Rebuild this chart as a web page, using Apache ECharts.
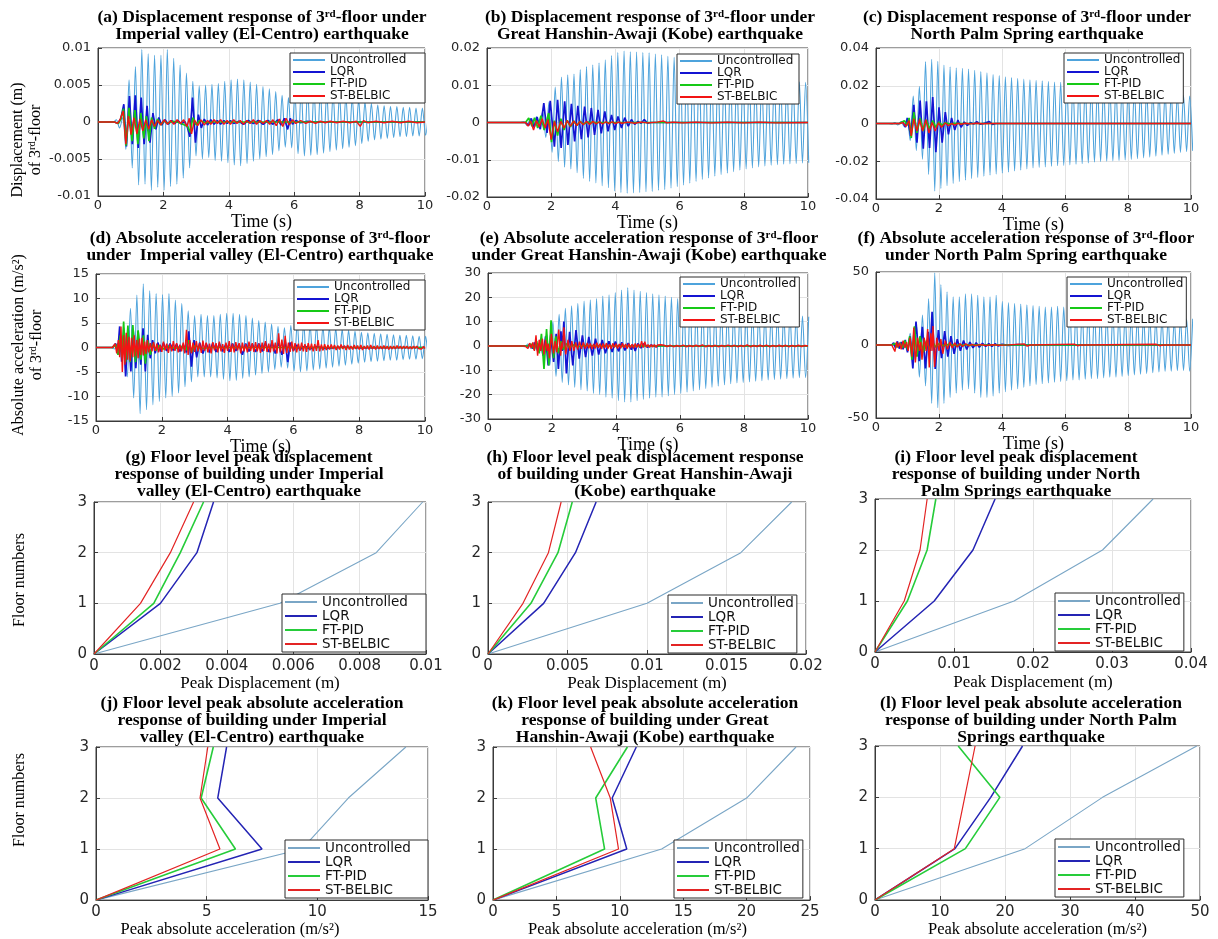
<!DOCTYPE html>
<html>
<head>
<meta charset="utf-8">
<script src="https://cdn.jsdelivr.net/npm/echarts@6/dist/echarts.min.js"></script>
<style>
  html, body { margin: 0; padding: 0; background: #ffffff; }
  #chart { width: 1218px; height: 939px; }
</style>
</head>
<body>
<div id="chart"></div>
<script>
// ---------------------------------------------------------------------------
// Data: 3-storey building response under three earthquakes
// ---------------------------------------------------------------------------
const seriesLabels = ['Uncontrolled', 'LQR', 'FT-PID', 'ST-BELBIC'];
const floors = [0, 1, 2, 3];

// Spacing (s) between successive turning points of the uncontrolled records
const halfPeriod = 0.0975;

// ---- (a) 3rd-floor displacement (m), El-Centro ----
const elCentroDispUncStart = 0.4625;
const elCentroDispUnc = [0, 0.0003, -0.0008, 0.0006, -0.0037, 0.0057, -0.0062, 0.0075, -0.0085, 0.0098, -0.0084,
  0.0092, -0.0092, 0.0090, -0.0088, 0.0090, -0.0092, 0.0098, -0.0087, 0.0086, -0.0084, 0.0077, -0.0076, 0.0066,
  -0.0062, 0.0055, -0.0046, 0.0049, -0.0050, 0.0050, -0.0048, 0.0051, -0.0052, 0.0052, -0.0053, 0.0055, -0.0055,
  0.0057, -0.0058, 0.0058, -0.0059, 0.0057, -0.0056, 0.0054, -0.0053, 0.0051, -0.0050, 0.0048, -0.0047, 0.0045,
  -0.0044, 0.0041, -0.0039, 0.0036, -0.0034, 0.0033, -0.0035, 0.0040, -0.0043, 0.0046, -0.0046, 0.0046, -0.0045,
  0.0045, -0.0044, 0.0043, -0.0042, 0.0041, -0.0040, 0.0039, -0.0038, 0.0037, -0.0036, 0.0035, -0.0034, 0.0033,
  -0.0032, 0.0030, -0.0029, 0.0027, -0.0026, 0.0025, -0.0024, 0.0023, -0.0023, 0.0022, -0.0022, 0.0021, -0.0021,
  0.0021, -0.0020, 0.0020, -0.0020, 0.0020, -0.0019, 0.0019, -0.0019, 0.0019, -0.0018, 0.0018];
const elCentroDispLQR = [[0, 0], [0.5, 0], [0.62, -0.0002], [0.7, 0.0005], [0.79, 0.0024], [0.87, -0.0033], [0.96, 0.0035],
  [1.05, -0.0030], [1.14, 0.0036], [1.23, -0.0035], [1.32, 0.0033], [1.41, -0.0030], [1.5, 0.0022], [1.59, -0.0028],
  [1.68, 0.0012], [1.77, -0.0010], [1.86, 0.0006], [1.95, -0.0004], [2.05, 0.0003], [2.15, -0.0003], [2.25, 0.0002],
  [2.35, -0.0002], [2.45, 0.0002], [2.55, -0.0003], [2.65, 0.0001], [2.74, -0.0008], [2.81, -0.0020], [2.89, 0.0033],
  [2.98, -0.0028], [3.07, 0.0010], [3.16, -0.0008], [3.25, 0.0004], [3.35, -0.0004], [3.45, 0.0003], [3.55, -0.0003],
  [3.65, 0.0002], [3.75, -0.0003], [3.85, 0.0002], [3.95, -0.0002], [4.05, 0.0002], [4.15, -0.0002], [4.3, 0.0001],
  [4.45, -0.0003], [4.6, 0.0002], [4.75, -0.0002], [4.9, 0.0002], [5.05, -0.0003], [5.2, 0.0002], [5.35, -0.0003],
  [5.5, 0.0003], [5.6, -0.0004], [5.7, 0.0005], [5.8, -0.0010], [5.88, 0.0005], [5.95, -0.0003], [6.05, 0.0002],
  [6.2, -0.0001], [6.4, 0.0001], [6.6, 0], [10, 0]];
const elCentroDispPID = [[0, 0], [0.5, 0], [0.62, -0.0002], [0.7, 0.0004], [0.78, 0.0018], [0.86, -0.0032], [0.95, 0.0019],
  [1.04, -0.0026], [1.13, 0.0016], [1.22, -0.0030], [1.31, 0.0012], [1.4, -0.0022], [1.48, 0.0008], [1.56, -0.0026],
  [1.64, 0.0006], [1.73, -0.0009], [1.82, 0.0004], [1.92, -0.0004], [2.02, 0.0002], [2.12, -0.0002], [2.3, 0.0001],
  [2.5, -0.0001], [2.74, -0.0006], [2.82, -0.0014], [2.9, 0.0006], [3.0, -0.0004], [3.1, 0.0002], [3.3, -0.0001],
  [3.5, 0], [10, 0]];
const elCentroDispBEL = [[0, 0], [0.5, 0], [0.6, -0.0002], [0.68, 0.0004], [0.77, 0.0015], [0.85, -0.0030], [0.93, 0.0008],
  [1.01, -0.0017], [1.1, 0.0006], [1.19, -0.0016], [1.28, 0.0004], [1.37, -0.0012], [1.46, 0.0003], [1.55, -0.0010],
  [1.64, 0.0003], [1.73, -0.0006], [1.82, 0.0002], [1.92, -0.0004], [2.02, 0.0003], [2.12, -0.0003], [2.22, 0.0002],
  [2.32, -0.0003], [2.42, 0.0003], [2.52, -0.0002], [2.62, 0.0003], [2.72, -0.0006], [2.79, 0.0005], [2.86, -0.0016],
  [2.95, 0.0003], [3.05, -0.0005], [3.15, 0.0003], [3.25, -0.0004], [3.35, 0.0002], [3.45, -0.0003], [3.55, 0.0003],
  [3.65, -0.0002], [3.75, 0.0003], [3.85, -0.0003], [3.95, 0.0002], [4.05, -0.0003], [4.15, 0.0003], [4.25, -0.0002],
  [4.35, 0.0002], [4.45, -0.0003], [4.55, 0.0002], [4.65, -0.0002], [4.75, 0.0003], [4.85, -0.0003], [4.95, 0.0002],
  [5.05, -0.0002], [5.15, 0.0002], [5.25, -0.0003], [5.35, 0.0003], [5.45, -0.0005], [5.55, 0.0004], [5.65, -0.0006],
  [5.75, 0.0005], [5.85, -0.0004], [5.95, 0.0003], [6.05, -0.0002], [6.2, 0.0002], [6.35, -0.0002], [6.5, 0.0001],
  [6.65, -0.0002], [6.8, 0.0001], [6.95, -0.0001], [7.1, 0.0001], [7.3, -0.0001], [7.5, 0.0001], [7.7, -0.0001],
  [7.9, 0.0001], [8.02, -0.0006], [8.12, 0.0002], [8.25, -0.0001], [8.5, 0.0001], [8.75, -0.0001], [9.0, 0.0001],
  [9.25, -0.0001], [9.5, 0.0001], [9.75, -0.0001], [10, 0]];

// ---- (b) 3rd-floor displacement (m), Kobe ----
const kobeDispUncStart = 1.0525;
const kobeDispUnc = [0, 0.0002, -0.0008, 0.0010, -0.0012, 0.0015, -0.0015, 0.0030, -0.0040, 0.0055, -0.0080, 0.0095,
  -0.0105, 0.0122, -0.0120, 0.0128, -0.0125, 0.0130, -0.0135, 0.0142, -0.0150, 0.0150, -0.0158, 0.0155, -0.0162,
  0.0160, -0.0170, 0.0168, -0.0175, 0.0180, -0.0184, 0.0188, -0.0188, 0.0192, -0.0190, 0.0190, -0.0189, 0.0189,
  -0.0188, 0.0188, -0.0186, 0.0187, -0.0185, 0.0184, -0.0182, 0.0182, -0.0180, 0.0178, -0.0176, 0.0175, -0.0172,
  0.0170, -0.0168, 0.0165, -0.0163, 0.0161, -0.0158, 0.0156, -0.0153, 0.0151, -0.0149, 0.0147, -0.0144, 0.0142,
  -0.0140, 0.0138, -0.0136, 0.0134, -0.0132, 0.0130, -0.0128, 0.0126, -0.0125, 0.0123, -0.0122, 0.0120, -0.0119,
  0.0118, -0.0117, 0.0116, -0.0115, 0.0114, -0.0113, 0.0112, -0.0112, 0.0111, -0.0111, 0.0110, -0.0110, 0.0109,
  -0.0109, 0.0108, -0.0108];
const kobeDispLQR = [[0, 0], [1.2, 0], [1.3, -0.0008], [1.38, 0.0011], [1.47, -0.0012], [1.56, 0.0015], [1.66, -0.0018],
  [1.77, 0.0052], [1.87, -0.0028], [1.97, 0.0058], [2.1, -0.0065], [2.2, 0.0061], [2.31, -0.0068], [2.42, 0.0057],
  [2.52, -0.0060], [2.63, 0.0050], [2.73, -0.0051], [2.83, 0.0045], [2.94, -0.0045], [3.04, 0.0043], [3.15, -0.0040],
  [3.25, 0.0039], [3.35, -0.0033], [3.46, 0.0034], [3.56, -0.0029], [3.67, 0.0030], [3.77, -0.0024], [3.88, 0.0020],
  [3.98, -0.0020], [4.08, 0.0016], [4.19, -0.0015], [4.29, 0.0013], [4.4, -0.0010], [4.5, 0.0008], [4.6, -0.0005],
  [4.7, 0.0003], [4.8, -0.0002], [4.9, 0.0008], [5.0, -0.0002], [5.1, 0], [10, 0]];
const kobeDispPID = [[0, 0], [1.2, 0], [1.3, 0.0012], [1.4, -0.0010], [1.48, 0.0013], [1.58, -0.0015], [1.68, 0.0018],
  [1.78, -0.0020], [1.92, 0.0025], [2.01, -0.0053], [2.1, 0.0005], [2.2, -0.0035], [2.3, 0.0010], [2.4, -0.0020],
  [2.5, 0.0006], [2.6, -0.0012], [2.7, 0.0004], [2.8, -0.0008], [2.9, 0.0003], [3.0, -0.0004], [3.15, 0.0001],
  [3.3, 0], [10, 0]];
const kobeDispBEL = [[0, 0], [1.2, 0], [1.28, -0.0010], [1.36, 0.0004], [1.45, -0.0020], [1.54, 0.0005], [1.63, -0.0012],
  [1.72, 0.0010], [1.81, -0.0015], [1.9, 0.0008], [2.0, -0.0046], [2.1, 0.0003], [2.2, -0.0025], [2.3, 0.0003],
  [2.4, -0.0015], [2.5, 0.0005], [2.6, -0.0010], [2.7, 0.0004], [2.8, -0.0008], [2.9, 0.0003], [3.0, -0.0006],
  [3.1, 0.0003], [3.2, -0.0005], [3.3, 0.0003], [3.4, -0.0004], [3.5, 0.0002], [3.6, -0.0004], [3.7, 0.0002],
  [3.8, -0.0003], [3.9, 0.0002], [4.0, -0.0003], [4.1, 0.0001], [4.2, -0.0002], [4.4, 0.0001], [4.6, -0.0002],
  [4.8, 0.0001], [5.0, -0.0001], [5.3, 0.0001], [5.5, 0.0004], [5.6, -0.0001], [5.8, 0.0001], [6.1, -0.0001],
  [6.5, 0.0001], [7.0, -0.0001], [7.5, 0.0001], [8.0, -0.0001], [8.5, 0.0001], [9.0, -0.0001], [10, 0]];

// ---- (c) 3rd-floor displacement (m), North Palm Springs ----
const palmDispUncStart = 0.4025;
const palmDispUnc = [0, -0.0003, 0.0005, -0.0008, 0.0010, -0.0015, 0.0030, -0.0090, 0.0145, -0.0143, 0.0197, -0.0190,
  0.0328, -0.0270, 0.0340, -0.0358, 0.0330, -0.0344, 0.0310, -0.0330, 0.0300, -0.0318, 0.0295, -0.0308, 0.0292,
  -0.0300, 0.0288, -0.0292, 0.0282, -0.0286, 0.0275, -0.0280, 0.0268, -0.0274, 0.0260, -0.0268, 0.0254, -0.0263,
  0.0248, -0.0258, 0.0243, -0.0252, 0.0239, -0.0247, 0.0235, -0.0241, 0.0232, -0.0236, 0.0229, -0.0233, 0.0226,
  -0.0230, 0.0223, -0.0227, 0.0220, -0.0224, 0.0218, -0.0222, 0.0215, -0.0219, 0.0212, -0.0216, 0.0209, -0.0213,
  0.0206, -0.0209, 0.0203, -0.0205, 0.0200, -0.0202, 0.0198, -0.0200, 0.0196, -0.0198, 0.0194, -0.0196, 0.0192,
  -0.0193, 0.0190, -0.0190, 0.0187, -0.0186, 0.0183, -0.0182, 0.0179, -0.0178, 0.0175, -0.0173, 0.0170, -0.0168,
  0.0165, -0.0163, 0.0160, -0.0158, 0.0155, -0.0153, 0.0150, -0.0149, 0.0145, -0.0145];
const palmDispLQR = [[0, 0], [0.75, 0], [0.85, 0.0010], [0.93, -0.0020], [1.0, 0.0029], [1.1, -0.0066], [1.2, 0.0099],
  [1.3, -0.0102], [1.4, 0.0122], [1.5, -0.0134], [1.6, 0.0118], [1.7, -0.0130], [1.8, 0.0140], [1.9, -0.0152],
  [2.0, 0.0086], [2.1, -0.0102], [2.2, 0.0060], [2.3, -0.0057], [2.4, 0.0030], [2.5, -0.0035], [2.6, 0.0018],
  [2.7, -0.0020], [2.8, 0.0008], [2.9, -0.0010], [3.0, 0.0005], [3.1, -0.0003], [3.2, 0.0010], [3.3, -0.0003],
  [3.45, 0.0002], [3.6, 0.0010], [3.7, -0.0005], [3.8, 0], [10, 0]];
const palmDispPID = [[0, 0], [0.75, 0], [0.9, 0.0015], [1.0, -0.0010], [1.05, 0.0030], [1.12, -0.0077], [1.2, 0.0060],
  [1.3, -0.0050], [1.4, 0.0030], [1.5, -0.0040], [1.6, 0.0020], [1.7, -0.0030], [1.8, 0.0015], [1.9, -0.0020],
  [2.0, 0.0008], [2.1, -0.0010], [2.2, 0.0004], [2.35, -0.0003], [2.5, 0.0001], [2.7, 0], [10, 0]];
const palmDispBEL = [[0, 0], [0.75, 0], [0.85, 0.0005], [0.95, -0.0015], [1.05, 0.0015], [1.12, -0.0066], [1.2, 0.0025],
  [1.3, -0.0040], [1.38, 0.0020], [1.48, -0.0040], [1.58, 0.0020], [1.68, -0.0050], [1.78, 0.0005], [1.88, -0.0040],
  [1.98, 0.0003], [2.08, -0.0020], [2.2, 0.0003], [2.3, -0.0012], [2.4, 0.0000], [2.5, -0.0008], [2.6, 0.0001],
  [2.7, -0.0004], [2.85, 0.0001], [3.0, -0.0002], [3.2, 0.0001], [3.4, -0.0001], [3.6, 0], [10, 0]];

// ---- (d) 3rd-floor absolute acceleration (m/s^2), El-Centro ----
const elCentroAccUncStart = 0.4625;
const elCentroAccUnc = [0, -0.3, 0.8, -0.8, 4.0, -6.0, 8.0, -10.3, 10.7, -13.5, 13.0, -12.7, 11.6, -11.7, 11.0, -11.0,
  10.8, -10.3, 11.0, -10.0, 9.7, -9.3, 9.0, -8.0, 7.5, -7.0, 6.5, -6.0, 6.8, -6.0, 6.5, -6.0, 6.5, -6.2, 6.8, -6.5,
  7.0, -6.8, 7.0, -6.7, 6.8, -6.3, 6.5, -6.0, 6.0, -5.6, 5.5, -5.3, 5.2, -5.0, 4.8, -4.5, 4.3, -4.0, 4.0, -4.2, 4.5,
  -4.8, 5.0, -5.0, 5.0, -4.8, 4.7, -4.6, 4.5, -4.4, 4.3, -4.2, 4.1, -4.0, 3.9, -3.8, 3.7, -3.6, 3.5, -3.4, 3.3,
  -3.2, 3.1, -3.0, 3.0, -2.9, 2.9, -2.8, 2.8, -2.7, 2.7, -2.6, 2.6, -2.6, 2.5, -2.5, 2.5, -2.4, 2.4, -2.4, 2.3,
  -2.3, 2.3, -2.2, 2.2];
const elCentroAccLQR = [[0, 0], [0.5, 0], [0.6, 0.8], [0.66, -1.0], [0.72, 4.3], [0.78, -2.9], [0.84, 2.0], [0.9, -5.9],
  [0.98, 3.6], [1.06, -4.9], [1.13, 3.4], [1.21, -4.2], [1.28, 3.3], [1.36, -3.5], [1.43, 3.9], [1.5, -4.9],
  [1.57, 2.6], [1.65, -2.2], [1.72, 1.5], [1.8, -1.2], [1.88, 1.0], [1.96, -0.8], [2.05, 0.9], [2.15, -0.7],
  [2.25, 0.8], [2.35, -0.6], [2.45, 0.7], [2.55, -0.8], [2.65, 0.6], [2.75, -1.0], [2.82, 3.3], [2.9, -3.9],
  [2.98, 1.5], [3.06, -2.0], [3.15, 1.0], [3.25, -1.2], [3.35, 0.8], [3.45, -1.0], [3.55, 0.9], [3.65, -0.9],
  [3.75, 0.8], [3.85, -0.8], [3.95, 0.7], [4.05, -0.9], [4.15, 0.8], [4.25, -0.7], [4.35, 0.7], [4.45, -1.5],
  [4.55, 0.8], [4.65, -0.8], [4.75, 0.7], [4.85, -0.9], [4.95, 0.8], [5.05, -0.8], [5.15, 0.9], [5.25, -0.9],
  [5.35, 1.0], [5.45, -1.2], [5.55, 1.0], [5.65, -1.5], [5.75, 1.2], [5.83, -3.0], [5.9, 1.0], [6.0, -0.6],
  [6.1, 0.5], [6.2, -0.4], [6.35, 0.3], [6.5, -0.3], [6.7, 0.2], [7.0, -0.2], [7.5, 0.1], [8.0, -0.1], [10, 0]];
const elCentroAccPID = [[0, 0], [0.5, 0], [0.6, 0.6], [0.67, -1.5], [0.74, 2.5], [0.79, -2.0], [0.84, 5.3], [0.9, -3.0],
  [0.97, 4.5], [1.04, -3.0], [1.12, 4.6], [1.2, -3.0], [1.28, 3.5], [1.36, -2.5], [1.44, 2.5], [1.5, -3.3],
  [1.57, 1.5], [1.65, -1.5], [1.73, 0.8], [1.82, -0.6], [1.92, 0.4], [2.05, -0.3], [2.2, 0.2], [2.4, -0.2],
  [2.6, 0.2], [2.75, -0.5], [2.82, 1.5], [2.9, -1.0], [3.0, 0.4], [3.2, -0.2], [3.5, 0], [10, 0]];
const elCentroAccBEL = [[0, 0], [0.5, 0], [0.58, 0.8], [0.63, -1.2], [0.68, 1.5], [0.72, -2.0], [0.76, 4.3], [0.8, -5.0],
  [0.84, 2.5], [0.88, -3.5], [0.92, 3.0], [0.96, -2.5], [1.0, 2.2], [1.04, -2.8], [1.08, 2.0], [1.12, -2.0],
  [1.16, 2.5], [1.2, -1.8], [1.24, 1.5], [1.28, -2.2], [1.32, 1.8], [1.36, -1.5], [1.4, 2.0], [1.44, -1.6],
  [1.48, 1.2], [1.52, -1.3], [1.56, 1.5], [1.6, -1.0]];
// ST-BELBIC residual ripple, sampled every 0.05 s from 1.65 s
const elCentroAccBELRippleStart = 1.65;
const elCentroAccBELRipple = [0.9, -0.8, 1.1, -0.7, 0.8, -1.0, 0.6, -0.9, 1.2, -0.6, 0.8, -1.1, 0.7, -0.8, 1.3, -0.7,
  0.9, -1.0, 0.6, -0.8, 1.0, -1.2, 3.6, -1.5, 1.5, -1.2, 1.0, -0.9, 1.3, -0.8, 0.9, -1.1, 1.4, -0.7, 1.0, -1.0, 0.8,
  -1.2, 1.1, -0.6, 0.9, -1.0, 1.2, -0.8, 0.7, -1.1, 1.0, -0.7, 1.3, -0.9, 0.8, -1.0, 1.1, -0.6, 0.9, -1.2, 1.0, -0.8,
  0.7, -1.0, 1.2, -0.7, 0.9, -0.9, 1.1, -0.8, 0.8, -1.1, 1.0, -0.7, 1.3, -0.9, 0.8, -1.0, 1.5, -0.8, 1.0, -1.2, 2.9,
  -1.0, 1.6, -1.3, 2.4, -1.1, 1.0, -0.9, 1.2, -0.8, 0.9, -1.0, 0.8, -0.7, 1.0, -0.8, 0.7, -0.9, 0.9, -0.6, 0.8,
  -0.8, 0.7, -0.7, 1.5, -0.8, 0.6, -0.6, 0.7, -0.5, 0.5, -0.4, 0.6, -0.3, 0.5, -0.5, 0.4, -0.4, 0.6, -0.3, 0.4,
  -0.5, 0.5, -0.4, 0.3, -0.4, 0.5, -0.3, 0.4, -0.4, 0.5, -0.5, 0.3, -0.3, 0.4, -0.4, 0.5, -0.3, 0.3, -0.4, 0.4,
  -0.3, 0.3, -0.3, 0.4, -0.3, 0.3, -0.4, 0.3, -0.3, 0.3, -0.3, 0.4, -0.2, 0.3, -0.3, 0.3, -0.2, 0.3, -0.3, 0.2,
  -0.3, 0.3, -0.2, 0.3, -0.2, 0.2, -0.3, 0.2, -0.2];

// ---- (e) 3rd-floor absolute acceleration (m/s^2), Kobe ----
const kobeAccUncStart = 1.0525;
const kobeAccUnc = [0, -0.3, 0.8, -1.0, 1.5, -2.0, 2.5, -4.0, 5.0, -8.0, 10.0, -12.5, 13.0, -15.0, 15.5, -16.0, 16.5,
  -17.0, 17.5, -18.0, 18.5, -18.5, 19.0, -19.5, 19.5, -20.0, 20.5, -21.0, 21.0, -21.5, 22.0, -22.5, 23.0, -23.0,
  24.0, -23.0, 23.0, -22.5, 22.5, -22.0, 22.0, -21.5, 21.5, -21.0, 21.0, -21.0, 20.5, -20.5, 20.0, -20.0, 19.5,
  -19.5, 19.0, -19.0, 18.5, -18.5, 18.0, -18.0, 17.5, -17.5, 17.0, -17.0, 16.5, -16.5, 16.0, -16.0, 15.5, -15.5,
  15.0, -15.2, 14.8, -15.0, 14.5, -14.8, 14.2, -14.5, 14.0, -14.3, 13.8, -14.0, 13.5, -13.8, 13.2, -13.6, 13.0,
  -13.4, 12.8, -13.2, 12.5, -13.0, 12.3, -13.0, 12.0];
const kobeAccLQR = [[0, 0], [1.25, 0], [1.32, 0.6], [1.4, -1.0], [1.48, 1.5], [1.56, -2.0], [1.64, 2.5], [1.72, -4.0],
  [1.8, 4.0], [1.88, -8.0], [1.96, 4.4], [2.05, -6.5], [2.13, 5.0], [2.2, -9.4], [2.28, 6.0], [2.32, -2.0],
  [2.37, 10.0], [2.45, -11.3], [2.55, 5.8], [2.65, -8.0], [2.75, 6.5], [2.85, -5.2], [2.95, 4.4], [3.05, -4.6],
  [3.15, 3.7], [3.26, -3.9], [3.36, 3.0], [3.46, -3.5], [3.57, 2.5], [3.67, -3.0], [3.78, 2.0], [3.88, -2.5],
  [3.98, 1.8], [4.08, -2.2], [4.18, 1.5], [4.28, -1.8], [4.38, 1.2], [4.48, -1.5], [4.53, 0.5], [4.6, -2.0],
  [4.68, 1.0], [4.78, -0.8], [4.88, 1.0], [4.98, -0.5], [5.1, 0.4], [5.25, -0.3], [5.4, 0.2], [5.6, 0], [10, 0]];
const kobeAccPID = [[0, 0], [1.25, 0], [1.35, 0.8], [1.45, -1.5], [1.52, 2.0], [1.6, -3.0], [1.67, 5.0], [1.75, -9.4],
  [1.83, 7.0], [1.9, -8.0], [1.97, 10.6], [2.05, -5.0], [2.12, 4.0], [2.2, -3.0], [2.28, 2.0], [2.36, -1.5],
  [2.45, 1.0], [2.55, -0.8], [2.65, 0.5], [2.8, -0.3], [3.0, 0.2], [3.3, 0], [10, 0]];
const kobeAccBEL = [[0, 0], [1.15, 0], [1.2, 0.8], [1.25, -1.0], [1.3, 1.2], [1.35, -0.8], [1.4, 1.5], [1.45, -2.0],
  [1.5, 4.4], [1.55, -4.0], [1.6, 2.5], [1.65, -2.0], [1.7, 3.0], [1.75, -3.5], [1.8, 2.5], [1.85, -2.0],
  [1.88, 1.0], [1.92, -5.0], [1.98, 5.0], [2.05, -3.0], [2.1, 2.0], [2.15, -2.5], [2.21, 6.8], [2.27, -4.0],
  [2.31, 1.5], [2.33, -1.0], [2.37, 7.7], [2.43, -3.5], [2.5, 2.5], [2.56, -2.0], [2.62, 2.0], [2.68, -2.0],
  [2.74, 1.5], [2.8, -1.5], [2.86, 1.8], [2.92, -1.2], [2.98, 1.5], [3.04, -1.0]];
const kobeAccBELRippleStart = 3.1;      // every 0.05 s
const kobeAccBELRipple = [1.2, -0.9, 1.0, -1.3, 0.8, -1.0, 1.4, -0.7, 0.9, -1.1, 1.0, -0.8, 1.2, -1.0, 0.7, -1.2, 1.1,
  -0.6, 0.9, -1.0, 0.8, -0.9, 1.1, -0.7, 0.8, -1.0, 0.9, -0.8, 0.7, -0.9, 1.0, -0.6, 0.8, -0.7, 2.0, -0.6, 1.8, -0.5,
  0.6, -0.6, 0.5, -0.4, 0.6, -0.5, 0.4, -0.4, 0.5, -0.3];
const kobeAccBELTailStart = 5.5;        // every 0.1 s
const kobeAccBELTail = [0.3, -0.2, 0.3, -0.3, 0.2, -0.2, 0.4, -0.3, 0.2, -0.2, 0.3, -0.2, 0.5, -0.3, 0.2, -0.2, 0.3,
  -0.3, 0.2, -0.2, 0.4, -0.2, 0.3, -0.3, 0.2, -0.2, 0.5, -0.3, 0.2, -0.2, 0.3, -0.2, 0.4, -0.3, 0.2, -0.2, 0.3, -0.2,
  0.3, -0.3, 0.2, -0.2, 0.3, -0.2, 0.2];

// ---- (f) 3rd-floor absolute acceleration (m/s^2), North Palm Springs ----
const palmAccUncStart = 0.4025;
const palmAccUnc = [0, 0.3, -0.5, 0.8, -1.2, 2.0, -4.0, 8.0, -12.0, 14.3, -22.0, 20.5, -28.0, 31.8, -40.0, 49.5, -43.0,
  41.4, -40.0, 36.4, -36.0, 33.0, -33.0, 33.0, -31.0, 35.0, -30.0, 35.0, -33.0, 34.0, -36.0, 33.0, -36.0, 33.0,
  -35.0, 34.0, -33.0, 30.0, -32.0, 29.0, -31.0, 28.5, -30.0, 28.0, -29.0, 27.5, -28.0, 27.0, -27.0, 26.5, -26.5,
  26.0, -26.0, 26.0, -25.5, 26.5, -25.0, 26.0, -24.5, 25.0, -24.0, 24.5, -24.0, 24.0, -23.5, 24.0, -23.0, 23.5,
  -23.0, 23.0, -22.5, 22.0, -22.0, 21.5, -22.0, 21.0, -21.5, 21.0, -21.0, 20.5, -20.5, 20.0, -20.0, 19.5, -19.5,
  19.0, -19.0, 18.5, -18.5, 18.0, -18.0, 17.5, -18.0, 17.0, -17.5, 17.5, -17.5, 18.0, -18.0, 18.0];
const palmAccLQR = [[0, 0], [0.5, 0], [0.56, 1.5], [0.62, -2.0], [0.68, 2.5], [0.74, -2.5], [0.8, 2.0], [0.86, -3.0],
  [0.93, 3.5], [1.0, -5.0], [1.08, 6.0], [1.17, -16.0], [1.27, 16.0], [1.37, -11.0], [1.47, 12.5], [1.57, -16.0],
  [1.66, 9.0], [1.72, -4.0], [1.78, 22.7], [1.88, -16.4], [1.98, 10.2], [2.08, -9.0], [2.18, 9.5], [2.28, -8.0],
  [2.38, 6.0], [2.48, -6.0], [2.58, 4.0], [2.68, -4.0], [2.78, 3.0], [2.88, -3.0], [2.98, 2.0], [3.08, -2.0],
  [3.18, 1.5], [3.28, -1.5], [3.38, 1.2], [3.48, -1.0], [3.58, 1.0], [3.68, -1.0], [3.78, 0.8], [3.88, -0.6],
  [4.0, 0.4], [4.2, -0.3], [4.5, 0.2], [4.8, 0], [10, 0]];
const palmAccPID = [[0, 0], [0.5, 0], [0.6, 1.0], [0.68, -1.5], [0.76, 1.5], [0.84, -2.0], [0.92, 3.0], [1.0, -3.0],
  [1.07, 6.0], [1.14, -10.0], [1.22, 12.8], [1.3, -8.0], [1.4, 6.0], [1.5, -5.0], [1.6, 3.0], [1.7, -3.0],
  [1.8, 2.0], [1.9, -1.5], [2.0, 1.0], [2.15, -0.6], [2.3, 0.4], [2.5, -0.2], [2.7, 0], [10, 0]];
const palmAccBEL = [[0, 0], [0.5, 0], [0.55, 1.0], [0.6, -4.5], [0.65, 2.0], [0.7, -1.5], [0.75, 1.5], [0.8, -3.0],
  [0.86, 3.0], [0.92, -2.0], [0.97, 2.0], [1.02, -4.0], [1.08, 5.0], [1.14, -8.0], [1.2, 12.0], [1.25, -12.0],
  [1.32, 5.0], [1.38, -4.0], [1.42, 2.0], [1.46, -10.0], [1.53, 5.0], [1.59, -4.0], [1.64, 11.0], [1.69, -15.4],
  [1.74, 8.0], [1.78, -4.0], [1.81, 13.0], [1.86, -15.0], [1.93, 5.0], [2.0, -4.0], [2.06, 4.0], [2.12, -6.0],
  [2.2, 3.0], [2.27, -3.0], [2.34, 2.0], [2.42, -2.0], [2.5, 1.5], [2.58, -1.5], [2.66, 1.0], [2.75, -1.0],
  [2.85, 0.8], [2.95, -0.6], [3.05, 0.5], [3.15, -0.5], [3.3, 0.3], [3.5, -0.3], [3.7, 0.2], [3.9, -0.2],
  [4.2, 0.1], [4.7, 0.8], [4.8, -0.8], [4.9, 0], [6.3, 0.6], [6.4, -0.5], [6.5, 0], [8.9, 0.5], [9.0, -0.5],
  [9.1, 0], [10, 0]];

// ---- (g)-(i) Peak floor displacement (m) at floors 0..3 ----
const elCentroPeakDisp = { unc: [0, 0.0056, 0.0085, 0.0099], lqr: [0, 0.0020, 0.0031, 0.0036], pid: [0, 0.0018, 0.0026, 0.0033], bel: [0, 0.0014, 0.0023, 0.0030] };
const kobePeakDisp = { unc: [0, 0.0100, 0.0159, 0.0191], lqr: [0, 0.0035, 0.0055, 0.0068], pid: [0, 0.0027, 0.0044, 0.0053], bel: [0, 0.0022, 0.0038, 0.0046] };
const palmPeakDisp = { unc: [0, 0.0176, 0.0288, 0.0352], lqr: [0, 0.0075, 0.0124, 0.0152], pid: [0, 0.0041, 0.0066, 0.0077], bel: [0, 0.0037, 0.0057, 0.0066] };

// ---- (j)-(l) Peak floor absolute acceleration (m/s^2) at floors 0..3 ----
const elCentroPeakAcc = { unc: [0, 9.3, 11.4, 14.0], lqr: [0, 7.5, 5.5, 5.9], pid: [0, 6.3, 4.75, 5.3], bel: [0, 5.6, 4.7, 5.05] };
const kobePeakAcc = { unc: [0, 13.3, 20.0, 23.9], lqr: [0, 10.55, 9.4, 11.3], pid: [0, 8.8, 8.1, 10.6], bel: [0, 9.9, 9.25, 7.7] };
const palmPeakAcc = { unc: [0, 23.1, 35.0, 49.5], lqr: [0, 12.3, 17.8, 22.7], pid: [0, 13.9, 19.2, 12.8], bel: [0, 12.2, 13.8, 15.4] };

// ---------------------------------------------------------------------------
// Helpers that turn the stored samples into [x, y] pairs for ECharts
// ---------------------------------------------------------------------------
function sampled(start, step, values) {
  return values.map((v, i) => [+(start + i * step).toFixed(4), v]);
}
function record(start, values) {            // at rest from t = 0, then turning points
  return [[0, 0]].concat(sampled(start, halfPeriod, values));
}
function profile(values) {                   // peak value against floor number
  return floors.map((f, k) => [values[k], f]);
}

// ---------------------------------------------------------------------------
// Styling
// ---------------------------------------------------------------------------
const SERIF = 'Liberation Serif';
const SANS = 'DejaVu Sans';
const AXIS_COLOR = '#3a3a3a';
const timeStyles = [
  { color: '#4ea3dc', width: 1.1, smooth: 0.3 },
  { color: '#1414d2', width: 1.7, smooth: false },
  { color: '#16c916', width: 1.7, smooth: false },
  { color: '#f21414', width: 1.4, smooth: false }
];
const floorStyles = [
  { color: '#7aa6c6', width: 1.1 },
  { color: '#2424b4', width: 1.5 },
  { color: '#26cc3a', width: 1.6 },
  { color: '#e32424', width: 1.2 }
];

// ---------------------------------------------------------------------------
// Panel layout
// ---------------------------------------------------------------------------
const timeX = [0, 10, 2];
const floorY = [0, 3, 1];
const panels = [
  { key: 'a', kind: 'time', box: [98, 48, 425, 196], xr: timeX, yr: [-0.01, 0.01, 0.005],
    legend: [290, 53, 92], title: [262, 9], xName: 'Time (s)', nameGap: 13, nameShift: 0,
    title_text: '(a) Displacement response of 3{sup|rd}-floor under\nImperial valley (El-Centro) earthquake',
    data: [record(elCentroDispUncStart, elCentroDispUnc), elCentroDispLQR, elCentroDispPID, elCentroDispBEL] },
  { key: 'b', kind: 'time', box: [487, 48, 808, 197], xr: timeX, yr: [-0.02, 0.02, 0.01],
    legend: [677, 54, 79], title: [650, 9], xName: 'Time (s)', nameGap: 11, nameShift: 0,
    title_text: '(b) Displacement response of 3{sup|rd}-floor under\nGreat Hanshin-Awaji (Kobe) earthquake',
    data: [record(kobeDispUncStart, kobeDispUnc), kobeDispLQR, kobeDispPID, kobeDispBEL] },
  { key: 'c', kind: 'time', box: [876, 48, 1191, 199], xr: timeX, yr: [-0.04, 0.04, 0.02],
    legend: [1064, 53, 75], title: [1027, 9], xName: 'Time (s)', nameGap: 10, nameShift: 0,
    title_text: '(c) Displacement response of 3{sup|rd}-floor under\nNorth Palm Spring earthquake',
    data: [record(palmDispUncStart, palmDispUnc), palmDispLQR, palmDispPID, palmDispBEL] },
  { key: 'd', kind: 'time', box: [96, 274, 425, 421], xr: timeX, yr: [-15, 15, 5],
    legend: [294, 280, 88], title: [260, 229.5], xName: 'Time (s)', nameGap: 11, nameShift: 0,
    title_text: '(d) Absolute acceleration response of 3{sup|rd}-floor\nunder  Imperial valley (El-Centro) earthquake',
    data: [record(elCentroAccUncStart, elCentroAccUnc), elCentroAccLQR, elCentroAccPID,
      elCentroAccBEL.concat(sampled(elCentroAccBELRippleStart, 0.05, elCentroAccBELRipple))] },
  { key: 'e', kind: 'time', box: [488, 273, 808, 419], xr: timeX, yr: [-30, 30, 10],
    legend: [680, 277, 75], title: [649, 229.5], xName: 'Time (s)', nameGap: 14, nameShift: 0,
    title_text: '(e) Absolute acceleration response of 3{sup|rd}-floor\nunder Great Hanshin-Awaji (Kobe) earthquake',
    data: [record(kobeAccUncStart, kobeAccUnc), kobeAccLQR, kobeAccPID,
      kobeAccBEL.concat(sampled(kobeAccBELRippleStart, 0.05, kobeAccBELRipple),
        sampled(kobeAccBELTailStart, 0.1, kobeAccBELTail), [[10, 0]])] },
  { key: 'f', kind: 'time', box: [876, 272, 1191, 418], xr: timeX, yr: [-50, 50, 50],
    legend: [1067, 277, 72], title: [1026, 229.5], xName: 'Time (s)', nameGap: 15, nameShift: 0,
    title_text: '(f) Absolute acceleration response of 3{sup|rd}-floor\nunder North Palm Spring earthquake',
    data: [record(palmAccUncStart, palmAccUnc), palmAccLQR, palmAccPID, palmAccBEL] },
  { key: 'g', kind: 'floor', box: [94, 502, 426, 654], xr: [0, 0.01, 0.002], yr: floorY,
    legend: [282, 594, 101], title: [249, 448.5], xName: 'Peak Displacement (m)', nameGap: 20, nameShift: 0,
    title_text: '(g) Floor level peak displacement\nresponse of building under Imperial\nvalley (El-Centro) earthquake',
    data: [elCentroPeakDisp.unc, elCentroPeakDisp.lqr, elCentroPeakDisp.pid, elCentroPeakDisp.bel].map(profile) },
  { key: 'h', kind: 'floor', box: [488, 502, 806, 654], xr: [0, 0.02, 0.005], yr: floorY,
    legend: [668, 595, 85], title: [645, 448.5], xName: 'Peak Displacement (m)', nameGap: 20, nameShift: 0,
    title_text: '(h) Floor level peak displacement response\nof building under Great Hanshin-Awaji\n(Kobe) earthquake',
    data: [kobePeakDisp.unc, kobePeakDisp.lqr, kobePeakDisp.pid, kobePeakDisp.bel].map(profile) },
  { key: 'i', kind: 'floor', box: [875, 499, 1191, 652], xr: [0, 0.04, 0.01], yr: floorY,
    legend: [1055, 593, 84], title: [1016, 448.5], xName: 'Peak Displacement (m)', nameGap: 22, nameShift: 0,
    title_text: '(i) Floor level peak displacement\nresponse of building under North\nPalm Springs earthquake',
    data: [palmPeakDisp.unc, palmPeakDisp.lqr, palmPeakDisp.pid, palmPeakDisp.bel].map(profile) },
  { key: 'j', kind: 'floor', box: [96, 747, 428, 901], xr: [0, 15, 5], yr: floorY,
    legend: [285, 840, 100], title: [252, 694.5], xName: 'Peak absolute acceleration (m/s²)', nameGap: 19, nameShift: 64,
    title_text: '(j) Floor level peak absolute acceleration\nresponse of building under Imperial\nvalley (El-Centro) earthquake',
    data: [elCentroPeakAcc.unc, elCentroPeakAcc.lqr, elCentroPeakAcc.pid, elCentroPeakAcc.bel].map(profile) },
  { key: 'k', kind: 'floor', box: [493, 747, 810, 901], xr: [0, 25, 5], yr: floorY,
    legend: [674, 840, 84], title: [645, 694.5], xName: 'Peak absolute acceleration (m/s²)', nameGap: 18, nameShift: 28,
    title_text: '(k) Floor level peak absolute acceleration\nresponse of building under Great\nHanshin-Awaji (Kobe) earthquake',
    data: [kobePeakAcc.unc, kobePeakAcc.lqr, kobePeakAcc.pid, kobePeakAcc.bel].map(profile) },
  { key: 'l', kind: 'floor', box: [875, 746, 1200, 900], xr: [0, 50, 10], yr: floorY,
    legend: [1055, 839, 84], title: [1031, 694.5], xName: 'Peak absolute acceleration (m/s²)', nameGap: 18, nameShift: 0,
    title_text: '(l) Floor level peak absolute acceleration\nresponse of building under North Palm\nSprings earthquake',
    data: [palmPeakAcc.unc, palmPeakAcc.lqr, palmPeakAcc.pid, palmPeakAcc.bel].map(profile) }
];

// ---------------------------------------------------------------------------
// Build the option
// ---------------------------------------------------------------------------
const grids = [], xAxes = [], yAxes = [], series = [], legends = [], graphics = [];

panels.forEach((p, i) => {
  const isTime = p.kind === 'time';
  const tickSize = isTime ? 13 : 15;
  const [l, t, r, b] = p.box;
  grids.push({ left: l, top: t, width: r - l, height: b - t, show: true,
    borderColor: AXIS_COLOR, borderWidth: 1, backgroundColor: 'rgba(0,0,0,0)' });

  const axisCommon = {
    type: 'value', gridIndex: i,
    axisLine: { show: true, onZero: false, lineStyle: { color: AXIS_COLOR, width: 1 } },
    axisTick: { show: true, inside: true, length: 4, lineStyle: { color: AXIS_COLOR } },
    splitLine: { show: true, lineStyle: { color: '#e3e3e3', width: 1 } },
    axisLabel: { fontFamily: SANS, fontSize: tickSize, color: '#262626' }
  };
  xAxes.push(Object.assign({}, axisCommon, {
    min: p.xr[0], max: p.xr[1], interval: p.xr[2],
    axisLabel: Object.assign({}, axisCommon.axisLabel, { margin: isTime ? 3 : 5 }),
    name: p.xName, nameLocation: 'middle', nameGap: p.nameGap,
    nameTextStyle: { fontFamily: SERIF, fontSize: isTime ? 18 : (p.key >= 'j' ? 16.5 : 17), color: '#000',
      padding: [0, p.nameShift, 0, 0] }
  }));
  yAxes.push(Object.assign({}, axisCommon, {
    min: p.yr[0], max: p.yr[1], interval: p.yr[2],
    axisLabel: Object.assign({}, axisCommon.axisLabel, { margin: 7 })
  }));

  const names = seriesLabels.map(s => s + '@' + p.key);
  p.data.forEach((d, k) => {
    const st = isTime ? timeStyles[k] : floorStyles[k];
    series.push({
      type: 'line', name: names[k], xAxisIndex: i, yAxisIndex: i, data: d,
      symbol: 'none', showSymbol: false, smooth: isTime ? st.smooth : false,
      lineStyle: { color: st.color, width: st.width },
      itemStyle: { color: st.color },
      emphasis: { disabled: true }, silent: true, z: 2 + k
    });
  });

  legends.push({
    data: names, orient: 'vertical', left: p.legend[0], top: p.legend[1],
    itemWidth: 32, itemHeight: isTime ? 10 : 12, itemGap: 0, padding: [1, 3, 1, 2],
    backgroundColor: '#ffffff', borderColor: '#2b2b2b', borderWidth: 1, borderRadius: 0,
    selectedMode: false, formatter: n => n.split('@')[0],
    itemStyle: { opacity: 0 },
    textStyle: { fontFamily: SANS, fontSize: isTime ? 12 : 13.5, lineHeight: isTime ? 11.6 : 13.4,
      color: '#111', width: p.legend[2] }
  });

  graphics.push({
    type: 'text', x: p.title[0], y: p.title[1], silent: true,
    style: {
      text: p.title_text, fontFamily: SERIF, fontWeight: 'bold', fontSize: 17.5, lineHeight: 17,
      fill: '#000', align: 'center', verticalAlign: 'top',
      rich: { sup: { fontFamily: SERIF, fontWeight: 'bold', fontSize: 11, lineHeight: 11, verticalAlign: 'top', fill: '#000' } }
    }
  });
});

// Row titles on the left
const yNames = [
  { x: 27, y: 140, text: 'Displacement (m)\nof 3{sup|rd}-floor' },
  { x: 28, y: 345, text: 'Absolute acceleration (m/s²)\nof 3{sup|rd}-floor' },
  { x: 20, y: 580, text: 'Floor numbers' },
  { x: 20, y: 800, text: 'Floor numbers' }
];
yNames.forEach(n => graphics.push({
  type: 'text', x: n.x, y: n.y, rotation: Math.PI / 2, silent: true,
  style: {
    text: n.text, fontFamily: SERIF, fontSize: 16, lineHeight: 18, fill: '#000',
    align: 'center', verticalAlign: 'middle',
    rich: { sup: { fontFamily: SERIF, fontSize: 10.5, lineHeight: 10, verticalAlign: 'top', fill: '#000' } }
  }
}));

const chart = echarts.init(document.getElementById('chart'), null, { renderer: 'canvas' });
chart.setOption({
  animation: false,
  backgroundColor: '#ffffff',
  grid: grids,
  xAxis: xAxes,
  yAxis: yAxes,
  legend: legends,
  series: series,
  graphic: { elements: graphics }
});
</script>
</body>
</html>
